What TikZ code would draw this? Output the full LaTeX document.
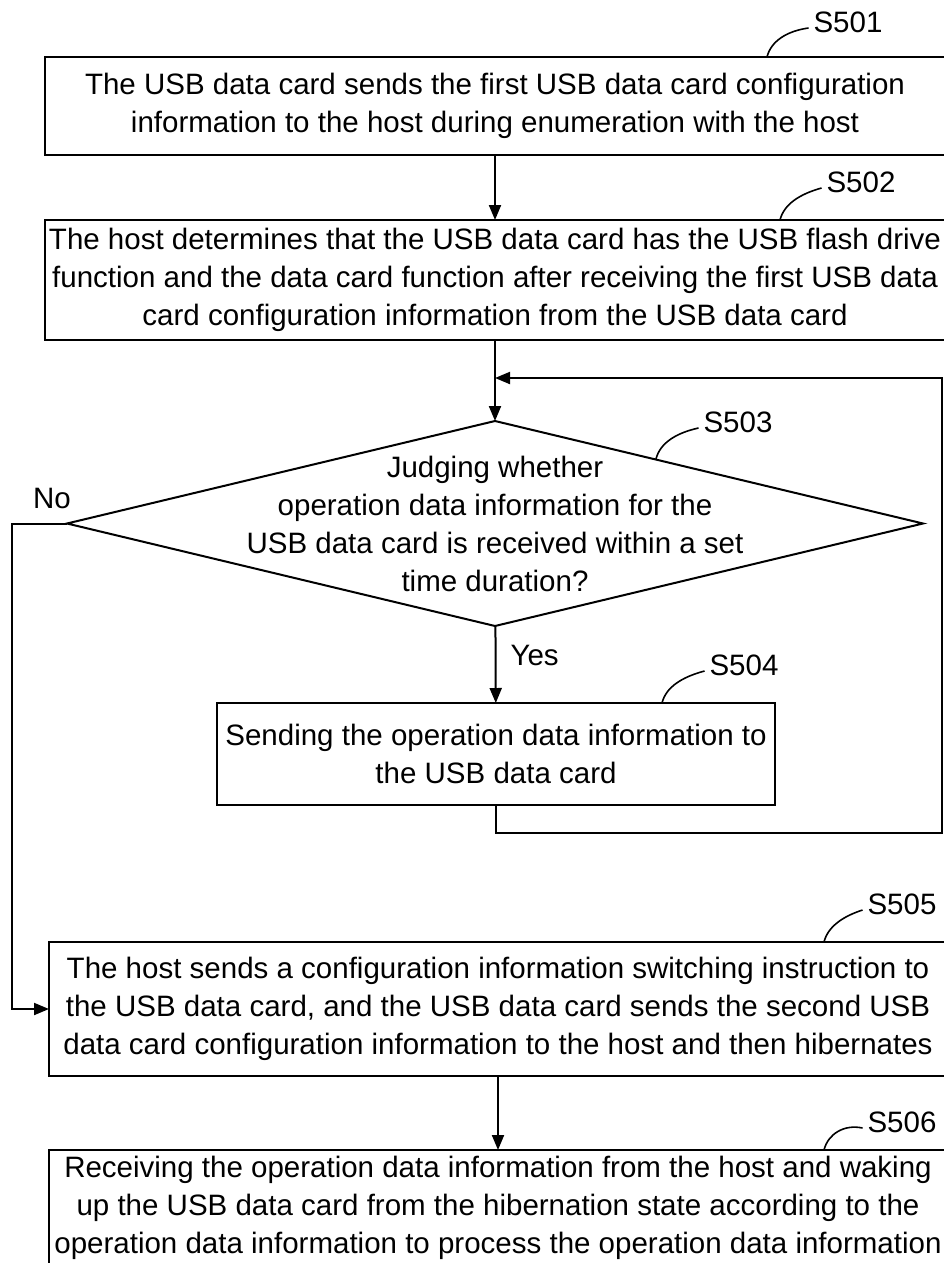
\documentclass[tikz,border=0pt]{standalone}
\usepackage{fontspec}
\setmainfont{Liberation Sans}
\usetikzlibrary{shapes.geometric,arrows.meta}

\begin{document}
\begin{tikzpicture}[x=1pt, y=-1pt, >={Triangle[length=15pt,width=12pt]}, line width=2pt,
    font=\fontsize{29.5}{38}\selectfont]

    \tikzset{%
    process box/.style={
        draw,
        align=center,
        inner sep=0pt,
        outer sep=0pt
        },
    judge/.style={
        diamond,
        draw,
        inner sep=0pt,
        outer sep=0pt
        },
    plain text/.style={
        inner sep=0pt,
        align=center
        },
    }

    \useasboundingbox (0,0) rectangle (944,1263);

    % Step boxes
    \node [process box, minimum width=900pt, minimum height=98pt] (s501) at (495,106)
    {The USB data card sends the first USB data card configuration\\
     information to the host during enumeration with the host};

    \node [process box, minimum width=900pt, minimum height=120pt] (s502) at (495,280)
    {The host determines that the USB data card has the USB flash drive\\
     function and the data card function after receiving the first USB data\\
     card configuration information from the USB data card};

    % Decision diamond and its text
    \node [judge, minimum width=856pt, minimum height=205pt] (s503) at (495,523.5) {};
    \node [plain text] (s503-text) at (s503.center)
    {Judging whether\\
     operation data information for the\\
     USB data card is received within a set\\
     time duration?};

    \node [process box, minimum width=558pt, minimum height=102pt] (s504) at (496,754)
    {Sending the operation data information to\\
     the USB data card};

    \node [process box, minimum width=898pt, minimum height=134pt] (s505) at (498,1009)
    {The host sends a configuration information switching instruction to\\
     the USB data card, and the USB data card sends the second USB\\
     data card configuration information to the host and then hibernates};

    \node [process box, minimum width=898pt, minimum height=116pt] (s506) at (498,1208)
    {Receiving the operation data information from the host and waking\\
     up the USB data card from the hibernation state according to the\\
     operation data information to process the operation data information};

    % Main flow arrows
    \draw [->] (s501) -- (s502);
    \draw [->] (s502) -- (s503);
    \draw [->] (s503) -- node [plain text, right=14pt, pos=0.38] (yes) {Yes} (s504);
    \draw [->] (s505) -- (s506);

    % Loop back from S504 to the decision
    \coordinate (loop-corner) at (942,833);
    \draw [->] (s504.south) |- (loop-corner) |- (s502.south |- 0,378);

    % No branch
    \coordinate (no-corner) at (12,523.5);
    \draw [->] (s503.west) -- (no-corner) |- (s505.west);
    \node [plain text] (no) at (52,498) {No};

    % Step labels and their leader curves
    \foreach \s/\bx/\by/\lx/\ly in {501/767/57/848/22, 502/780/220/861/182,
        503/656/459/738/422, 504/662/703/744/665,
        505/824/942/902/904, 506/824/1150/902/1122}
    {
    \node [plain text] (lbl-\s) at (\lx,\ly) {S\s};
    \coordinate (lead-\s) at (\bx,\by);
    \draw [line width=1.6pt] (lead-\s) .. controls (\bx+4,\by-16) and (\bx+20,\by-26)
        .. ([xshift=-4pt,yshift=-6pt]lbl-\s.west);
    }

\end{tikzpicture}
\end{document}
